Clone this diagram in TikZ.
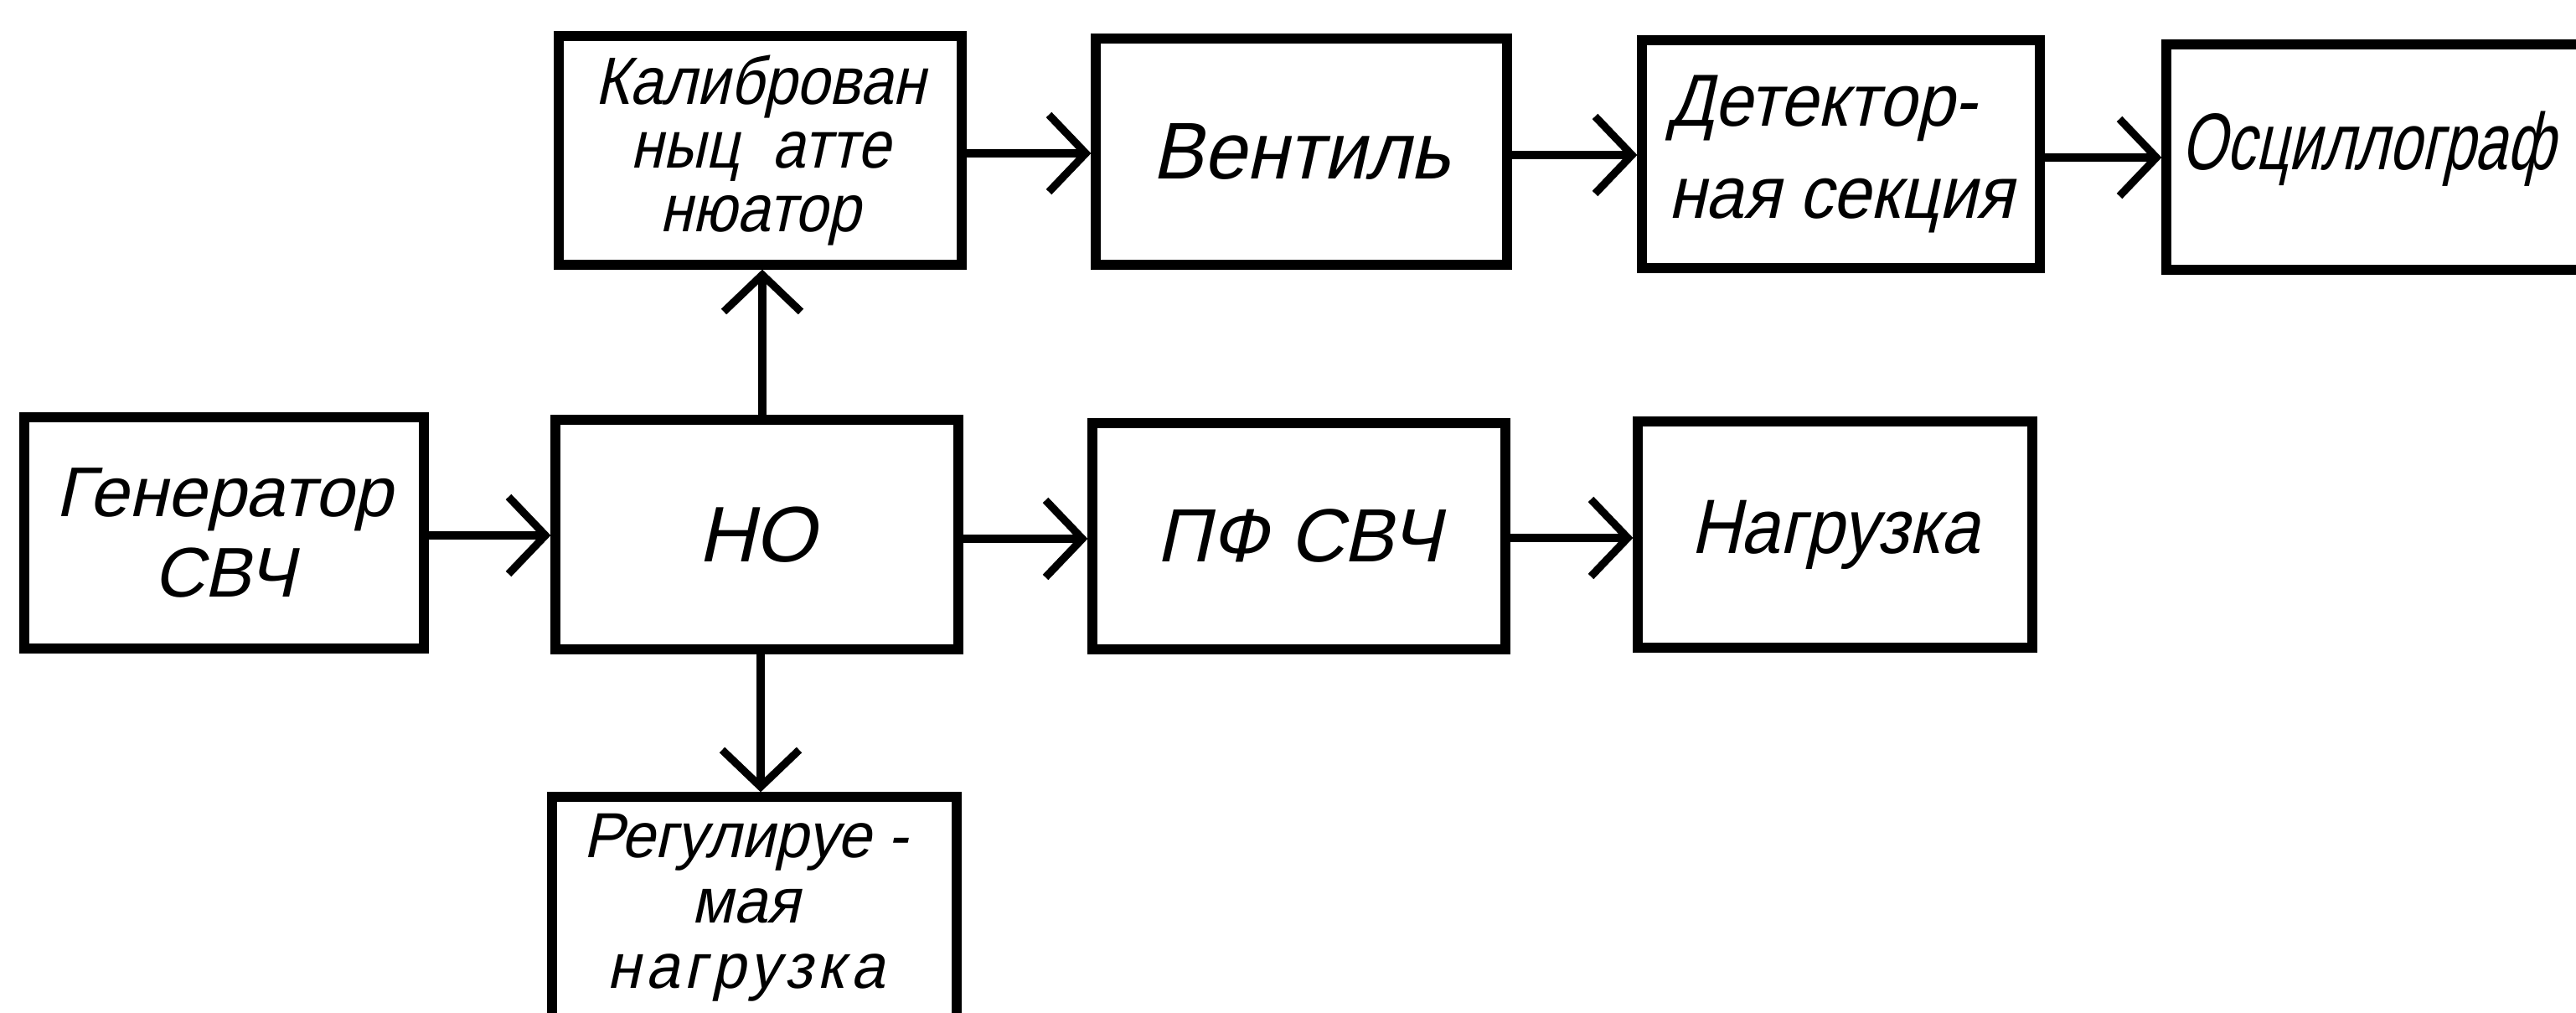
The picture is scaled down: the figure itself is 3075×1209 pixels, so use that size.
\documentclass[tikz,border=0pt]{standalone}
\usepackage{fontspec}
\setmainfont{Liberation Sans}[FakeSlant=0.22]
\usetikzlibrary{arrows.meta}
\begin{document}
\begin{tikzpicture}[x=0.25pt,y=-0.25pt,
  box/.style={draw, line width=2.8pt, inner sep=0pt, align=center},
  arr/.style={line width=2.5pt, -{Straight Barb[length=11pt,width=23pt,line width=2.3pt]}},
  txt/.style={inner sep=0pt}]
\useasboundingbox (0,0) rectangle (3075,1209);
\clip (0,0) rectangle (3075,1209);
% top row
\node[box, minimum width=120.25pt, minimum height=68.25pt,
  font={\fontsize{20}{19}\selectfont\addfontfeatures{FakeStretch=0.88}}] (kal) at (907.5,179.5)
  {Калиброван\\ныц\ \ атте\\нюатор};
\node[box, minimum width=122.75pt, minimum height=67.5pt,
  font={\fontsize{24}{24}\selectfont\addfontfeatures{FakeStretch=0.95}}] (vent) at (1553.5,181)
  {Вентиль};
\node[box, minimum width=118.75pt, minimum height=68pt, align=left,
  font={\fontsize{22}{27.5}\selectfont\addfontfeatures{FakeStretch=0.92}}] (det) at (2197.5,184)
  {Детектор-\\ная секция};
\node[box, minimum width=153.5pt, minimum height=67.25pt] (osc) at (2893,187.5) {};
\node[txt, anchor=west,
  font={\fontsize{24}{24}\selectfont\addfontfeatures{FakeStretch=0.72}}] (osct) at (2603,178)
  {Осциллограф};
% middle row
\node[box, minimum width=119.25pt, minimum height=69pt,
  font={\fontsize{21}{24}\selectfont}] (gen) at (267.5,636)
  {Генератор\\СВЧ};
\node[box, minimum width=120.25pt, minimum height=68.5pt,
  font={\fontsize{23.5}{24}\selectfont}] (no) at (903.5,638)
  {НО};
\node[box, minimum width=123.25pt, minimum height=67.5pt,
  font={\fontsize{22.5}{24}\selectfont}] (pf) at (1550.5,640)
  {ПФ СВЧ};
\node[box, minimum width=117.75pt, minimum height=67.5pt,
  font={\fontsize{23}{24}\selectfont\addfontfeatures{FakeStretch=0.9}}] (nag) at (2190.5,638)
  {Нагрузка};
% bottom
\node[box, minimum width=120.75pt, minimum height=99.75pt] (reg) at (900.5,1150.5) {};
\node[txt, align=center,
  font={\fontsize{19}{19.5}\selectfont\addfontfeatures{FakeStretch=0.95}}] (regt) at (890,1083)
  {Регулируе -\\мая\\{\addfontfeatures{LetterSpace=8}нагрузка}};
% connectors
\draw[arr] (gen.east |- 0,639) -- (no.west |- 0,639);
\draw[arr] (no.north -| 910,0) -- (kal.south -| 910,0);
\draw[arr] (no.south -| 908,0) -- (reg.north -| 908,0);
\draw[arr] (no.east |- 0,643) -- (pf.west |- 0,643);
\draw[arr] (pf.east |- 0,642) -- (nag.west |- 0,642);
\draw[arr] (kal.east |- 0,183) -- (vent.west |- 0,183);
\draw[arr] (vent.east |- 0,185) -- (det.west |- 0,185);
\draw[arr] (det.east |- 0,188) -- (osc.west |- 0,188);
\end{tikzpicture}
\end{document}
